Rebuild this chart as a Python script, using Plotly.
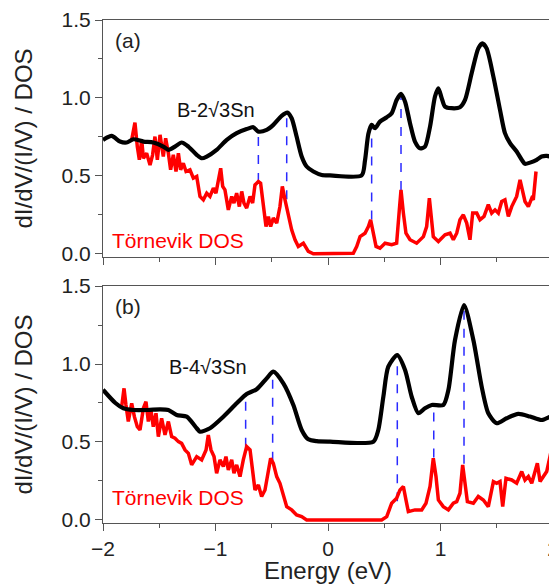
import plotly.graph_objects as go
from plotly.subplots import make_subplots

# ---------- panel (a) ----------
a_black_x = [-2.0, -1.923, -1.849, -1.79, -1.73, -1.64, -1.553, -1.464, -1.419, -1.36, -1.301, -1.241,
             -1.167, -1.123, -1.078, -0.99, -0.9, -0.812, -0.723, -0.664, -0.619, -0.545, -0.486, -0.412,
             -0.362, -0.323, -0.279, -0.234, -0.19, -0.13, -0.056, 0.018, 0.299, 0.329, 0.359, 0.388,
             0.418, 0.462, 0.522, 0.566, 0.610, 0.649, 0.685, 0.729, 0.773, 0.818, 0.862, 0.907, 0.951,
             0.981, 1.010, 1.040, 1.099, 1.173, 1.218, 1.277, 1.336, 1.372, 1.410, 1.470, 1.529, 1.573,
             1.618, 1.677, 1.722, 1.751, 1.796, 1.855, 1.899, 1.944, 2.0]
a_black_y = [0.73, 0.756, 0.72, 0.714, 0.735, 0.72, 0.714, 0.688, 0.667, 0.688, 0.714, 0.688,
             0.635, 0.613, 0.624, 0.667, 0.731, 0.774, 0.80, 0.812, 0.784, 0.795, 0.827, 0.885,
             0.906, 0.87, 0.752, 0.624, 0.56, 0.528, 0.506, 0.503, 0.503, 0.60, 0.77, 0.827,
             0.806, 0.848, 0.876, 0.902, 0.987, 1.026, 0.976, 0.838, 0.72, 0.677, 0.688, 0.816, 1.009,
             1.062, 1.0, 0.944, 0.934, 0.94, 0.987, 1.158, 1.318, 1.35, 1.318, 1.137, 0.923, 0.774,
             0.71, 0.656, 0.603, 0.577, 0.585, 0.603, 0.624, 0.628, 0.62]

a_red_x = [-1.745, -1.716, -1.695, -1.677, -1.656, -1.641, -1.612, -1.582, -1.559, -1.538, -1.517, -1.493,
           -1.464, -1.443, -1.419, -1.399, -1.375, -1.351, -1.330, -1.310, -1.286, -1.262, -1.227, -1.197,
           -1.167, -1.138, -1.108, -1.078, -1.049, -1.019, -0.996, -0.975, -0.954, -0.936, -0.916, -0.886,
           -0.856, -0.836, -0.812, -0.788, -0.767, -0.747, -0.723, -0.693, -0.670, -0.649, -0.619, -0.599,
           -0.575, -0.551, -0.530, -0.510, -0.486, -0.456, -0.427, -0.406, -0.382, -0.353, -0.323, -0.293,
           -0.264, -0.219, -0.175, -0.130, 0.225, 0.255, 0.285, 0.329, 0.359, 0.379, 0.403, 0.427,
           0.462, 0.507, 0.566, 0.610, 0.634, 0.649, 0.670, 0.693, 0.729, 0.788, 0.848, 0.877,
           0.901, 0.922, 0.936, 0.981, 1.040, 1.085, 1.114, 1.144, 1.173, 1.203, 1.233, 1.262,
           1.286, 1.322, 1.351, 1.387, 1.425, 1.455, 1.485, 1.514, 1.544, 1.573, 1.603, 1.633,
           1.677, 1.707, 1.731, 1.751, 1.781, 1.811, 1.825, 1.849]
a_red_y = [0.731, 0.842, 0.688, 0.603, 0.731, 0.613, 0.645, 0.57, 0.635, 0.752, 0.603, 0.763,
           0.624, 0.741, 0.645, 0.539, 0.635, 0.528, 0.645, 0.539, 0.581, 0.528, 0.539, 0.485,
           0.496, 0.368, 0.346, 0.389, 0.368, 0.421, 0.389, 0.474, 0.549, 0.432, 0.41, 0.282,
           0.368, 0.325, 0.389, 0.303, 0.40, 0.325, 0.293, 0.368, 0.325, 0.442, 0.464, 0.453,
           0.325, 0.175, 0.239, 0.175, 0.229, 0.197, 0.303, 0.432, 0.346, 0.261, 0.154, 0.09,
           0.047, 0.068, 0.015, 0.0, 0.004, 0.047, 0.11, 0.132, 0.175, 0.218, 0.132, 0.047,
           0.036, 0.068, 0.058, 0.068, 0.282, 0.41, 0.261, 0.132, 0.09, 0.068, 0.11, 0.175,
           0.357, 0.218, 0.11, 0.079, 0.122, 0.132, 0.09, 0.132, 0.218, 0.25, 0.197, 0.09,
           0.261, 0.261, 0.218, 0.24, 0.315, 0.261, 0.282, 0.261, 0.336, 0.346, 0.24, 0.303,
           0.368, 0.474, 0.389, 0.336, 0.303, 0.357, 0.346, 0.528]

a_mark_x = [-0.619, -0.367, 0.388, 0.649]
a_mark_top = [0.79, 0.90, 0.82, 1.02]
a_mark_bot = [0.46, 0.35, 0.22, 0.41]

# ---------- panel (b) ----------
b_black_x = [-2.0, -1.89, -1.819, -1.73, -1.6, -1.493, -1.419, -1.345, -1.256, -1.167, -1.138, -1.049,
             -0.93, -0.812, -0.723, -0.634, -0.545, -0.486, -0.397, -0.308, -0.234, -0.175, -0.1, 0.018,
             0.403, 0.447, 0.492, 0.536, 0.616, 0.685, 0.744, 0.803, 0.862, 0.922, 1.025, 1.070,
             1.129, 1.209, 1.292, 1.366, 1.425, 1.499, 1.588, 1.692, 1.796, 1.899, 1.988, 2.0]
b_black_y = [0.835, 0.75, 0.716, 0.705, 0.705, 0.709, 0.705, 0.673, 0.662, 0.588, 0.566, 0.588,
             0.662, 0.748, 0.808, 0.838, 0.908, 0.951, 0.876, 0.737, 0.577, 0.517, 0.505, 0.502,
             0.502, 0.577, 0.79, 0.983, 1.057, 0.962, 0.79, 0.684, 0.716, 0.737, 0.737, 0.833,
             1.154, 1.378, 1.154, 0.855, 0.684, 0.62, 0.652, 0.68, 0.663, 0.641, 0.667, 0.67]

b_red_x = [-1.834, -1.813, -1.796, -1.775, -1.745, -1.721, -1.695, -1.671, -1.641, -1.618, -1.597, -1.576,
           -1.553, -1.529, -1.508, -1.479, -1.449, -1.419, -1.390, -1.360, -1.330, -1.301, -1.271, -1.241,
           -1.212, -1.167, -1.123, -1.084, -1.064, -1.040, -1.013, -0.990, -0.960, -0.930, -0.907, -0.886,
           -0.856, -0.836, -0.812, -0.782, -0.753, -0.723, -0.693, -0.670, -0.649, -0.619, -0.590, -0.560,
           -0.530, -0.510, -0.486, -0.456, -0.427, -0.397, -0.367, -0.323, -0.279, -0.234, -0.190, 0.477,
           0.522, 0.566, 0.610, 0.640, 0.670, 0.693, 0.714, 0.773, 0.833, 0.871, 0.907, 0.936,
           0.960, 0.981, 1.025, 1.070, 1.114, 1.144, 1.173, 1.197, 1.218, 1.239, 1.292, 1.336,
           1.381, 1.425, 1.470, 1.499, 1.529, 1.553, 1.582, 1.633, 1.677, 1.722, 1.751, 1.781,
           1.811, 1.840, 1.861, 1.885, 1.914, 1.944, 1.973, 1.994]
b_red_y = [0.726, 0.844, 0.737, 0.631, 0.748, 0.662, 0.598, 0.577, 0.716, 0.759, 0.631, 0.716,
           0.598, 0.684, 0.534, 0.652, 0.545, 0.631, 0.534, 0.524, 0.502, 0.491, 0.449, 0.427,
           0.353, 0.406, 0.385, 0.449, 0.545, 0.449, 0.406, 0.299, 0.385, 0.342, 0.406, 0.321,
           0.385, 0.299, 0.353, 0.278, 0.385, 0.47, 0.449, 0.321, 0.192, 0.224, 0.15, 0.192,
           0.299, 0.395, 0.363, 0.278, 0.235, 0.15, 0.085, 0.064, 0.032, 0.021, 0.0, 0.0,
           0.021, 0.107, 0.139, 0.192, 0.214, 0.128, 0.053, 0.064, 0.064, 0.107, 0.214, 0.395,
           0.278, 0.128, 0.085, 0.064, 0.107, 0.117, 0.171, 0.353, 0.235, 0.117, 0.107, 0.15,
           0.128, 0.085, 0.246, 0.235, 0.246, 0.085, 0.267, 0.256, 0.235, 0.31, 0.256, 0.278,
           0.235, 0.321, 0.363, 0.246, 0.278, 0.31, 0.406, 0.481]

b_mark_x = [-0.732, -0.492, 0.616, 0.94, 1.209]
b_mark_top = [0.81, 0.95, 1.06, 0.74, 1.38]
b_mark_bot = [0.47, 0.38, 0.12, 0.40, 0.36]

x_ticks = [-2, -1, 0, 1, 2]
y_ticks = [0.0, 0.5, 1.0, 1.5]
panel_labels = ["(a)", "(b)"]
sample_labels = ["B-2\u221a3Sn", "B-4\u221a3Sn"]
ref_label = "Törnevik DOS"

FONT = "Arial, Liberation Sans, sans-serif"
fig = make_subplots(rows=2, cols=1, vertical_spacing=0.058)

panels = [
    (a_black_x, a_black_y, a_red_x, a_red_y, a_mark_x, a_mark_top, a_mark_bot),
    (b_black_x, b_black_y, b_red_x, b_red_y, b_mark_x, b_mark_top, b_mark_bot),
]
for i, (bx, by, rx, ry, mx, mt, mb) in enumerate(panels):
    row = i + 1
    for xv, t, b in zip(mx, mt, mb):
        fig.add_trace(go.Scatter(x=[xv, xv], y=[b, t], mode="lines",
                                 line=dict(color="#2a2aff", width=1.5, dash="dash"),
                                 showlegend=False, hoverinfo="skip"), row=row, col=1)
    fig.add_trace(go.Scatter(x=rx, y=ry, mode="lines",
                             line=dict(color="#ff0000", width=3.5),
                             showlegend=False), row=row, col=1)
    fig.add_trace(go.Scatter(x=bx, y=by, mode="lines",
                             line=dict(color="#000000", width=4.2, shape="spline", smoothing=0.7),
                             showlegend=False), row=row, col=1)

axis_common = dict(showline=True, linecolor="#555", linewidth=1.2, mirror=True,
                   ticks="outside", ticklen=7, tickwidth=1.2, tickcolor="#555",
                   showgrid=False, zeroline=False, automargin=False,
                   ticklabeloverflow="allow",
                   tickfont=dict(family=FONT, size=21, color="#222"))

for r in (1, 2):
    fig.update_xaxes(range=[-2, 2], tickvals=x_ticks,
                     minor=dict(ticks="outside", ticklen=4, dtick=0.5, tick0=0, tickcolor="#555"),
                     showticklabels=(r == 2), row=r, col=1, **axis_common)
    fig.update_yaxes(range=[-0.02, 1.5], tickvals=y_ticks, tickformat=".1f",
                     minor=dict(ticks="outside", ticklen=4, dtick=0.25, tick0=0, tickcolor="#555"),
                     title=dict(text="dI/dV/(I/V) / DOS", font=dict(family=FONT, size=24, color="#222"),
                                standoff=22),
                     row=r, col=1, **axis_common)

fig.update_xaxes(title=dict(text="Energy (eV)", font=dict(family=FONT, size=24, color="#222"), standoff=6),
                 row=2, col=1)

fig.update_layout(yaxis=dict(domain=[0.529, 1.0]), yaxis2=dict(domain=[0.0, 0.471]))

ann = []
for i, (yref, xref) in enumerate([("y", "x"), ("y2", "x2")]):
    ann.append(dict(x=-1.91, y=1.37, xref=xref, yref=yref, text=panel_labels[i], showarrow=False,
                    xanchor="left", yanchor="middle", font=dict(family=FONT, size=21, color="#222")))
ann.append(dict(x=-1.36, y=0.92, xref="x", yref="y", text=sample_labels[0], showarrow=False,
                xanchor="left", yanchor="middle", font=dict(family=FONT, size=20, color="#111")))
ann.append(dict(x=-1.43, y=0.98, xref="x2", yref="y2", text=sample_labels[1], showarrow=False,
                xanchor="left", yanchor="middle", font=dict(family=FONT, size=20, color="#111")))
ann.append(dict(x=-1.94, y=0.085, xref="x", yref="y", text=ref_label, showarrow=False,
                xanchor="left", yanchor="middle", font=dict(family=FONT, size=21, color="#ff0000")))
ann.append(dict(x=-1.94, y=0.145, xref="x2", yref="y2", text=ref_label, showarrow=False,
                xanchor="left", yanchor="middle", font=dict(family=FONT, size=21, color="#ff0000")))

# page body has an 8px margin, so the figure is sized to fill the rest of the 557x584 window
fig.update_layout(width=549, height=576, margin=dict(l=95, r=4, t=12, b=61),
                  plot_bgcolor="white", paper_bgcolor="white", annotations=ann,
                  font=dict(family=FONT))
fig.write_html("out.html")
